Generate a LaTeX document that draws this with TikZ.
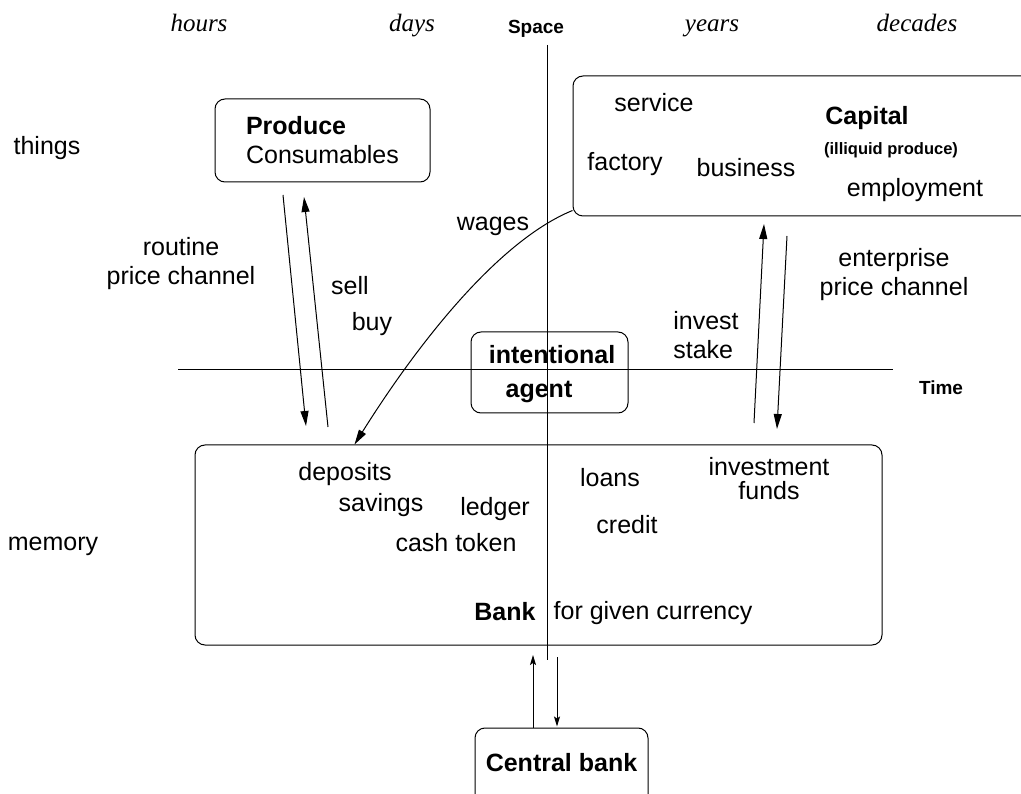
\documentclass[tikz,border=0pt]{standalone}
\usepackage{fontspec}
\setmainfont{Liberation Serif}
\setsansfont{Liberation Sans}
\usetikzlibrary{arrows.meta}
\begin{document}
\begin{tikzpicture}[x=1pt,y=-1pt,
  lbl/.style={font=\sffamily\fontsize{25}{29}\selectfont, inner sep=0pt},
  blbl/.style={font=\sffamily\bfseries\fontsize{25}{29}\selectfont, inner sep=0pt},
  scalelbl/.style={font=\rmfamily\itshape\fontsize{25}{29}\selectfont, inner sep=0pt, anchor=base},
  axislbl/.style={font=\sffamily\bfseries\fontsize{19}{22}\selectfont, inner sep=0pt},
  rbox/.style={draw, rounded corners=10pt, line width=1pt, inner sep=0pt},
  flow/.style={line width=1pt, -{Triangle[length=15pt,width=8pt]}},
  thinflow/.style={line width=1pt, -{Stealth[length=10pt,width=6pt,inset=2pt]}},
  axisline/.style={line width=1pt}]

\path[use as bounding box] (0,0) rectangle (1021,794);
\clip (0,0) rectangle (1021,794);

% time scale labels
\node[scalelbl] (hours) at (199,32) {hours};
\node[scalelbl] (days) at (412,32) {days};
\node[scalelbl] (years) at (712,32) {years};
\node[scalelbl] (decades) at (917,32) {decades};
\node[axislbl, anchor=base] (space) at (536,34) {Space};
\node[axislbl] (time) at (941,388) {Time};

% row labels
\node[lbl] (things) at (47,148) {things};
\node[lbl] (memory) at (53,546) {memory};

% axes
\coordinate (spacetop) at (547,45);
\coordinate (spacebot) at (547,660);
\coordinate (timeleft) at (178,370);
\coordinate (timeright) at (893,370);
\draw[axisline] (spacetop) -- (spacebot);
\draw[axisline] (timeleft) -- (timeright);

% Produce box
\node[rbox, minimum width=215pt, minimum height=83pt, align=left,
      font=\sffamily\fontsize{25}{29}\selectfont] (produce) at (322.5,140.5)
      {\textbf{Produce}\\Consumables};

% Capital box
\node[rbox, minimum width=460pt, minimum height=140pt] (capital) at (803,146) {};
\node[lbl] (service) at (654,103) {service};
\node[blbl] (capitallbl) at (867,118) {Capital};
\node[font=\sffamily\bfseries\fontsize{16.5}{19}\selectfont, inner sep=0pt] (illiquid) at (891,150) {(illiquid produce)};
\node[lbl] (factory) at (625,164) {factory};
\node[lbl] (business) at (746,168) {business};
\node[lbl] (employment) at (915,190) {employment};

% intentional agent
\node[rbox, minimum width=157pt, minimum height=81pt] (agentbox) at (549.5,372.5) {};
\node[blbl] (intentional) at (552,355) {intentional};
\node[blbl] (agent) at (539,392) {agent};

% Bank box
\node[rbox, minimum width=687pt, minimum height=200pt] (bank) at (538.5,545) {};
\node[lbl] (deposits) at (345,474) {deposits};
\node[lbl] (savings) at (381,505) {savings};
\node[lbl] (ledger) at (495,509) {ledger};
\node[lbl] (cashtoken) at (456,543) {cash token};
\node[lbl] (loans) at (610,478) {loans};
\node[lbl] (credit) at (627,525) {credit};
\node[lbl, align=center, font=\sffamily\fontsize{25}{24}\selectfont] (investment) at (769,479) {investment\\funds};
\node[blbl] (banklbl) at (505,612) {Bank};
\node[lbl] (currency) at (653,613) {for given currency};

% Central bank
\node[rbox, minimum width=173pt, minimum height=90pt, text depth=22pt,
      font=\sffamily\bfseries\fontsize{25}{29}\selectfont] (central) at (561.5,773) {Central bank};

% channel labels
\node[lbl, align=center] (routine) at (181,264) {routine\\price channel};
\node[lbl] (sell) at (350,286) {sell};
\node[lbl] (buy) at (372,324) {buy};
\node[lbl] (wages) at (493,226) {wages};
\node[lbl, align=left] (invest) at (706,335) {invest\\stake};
\node[lbl, align=center] (enterprise) at (894,275) {enterprise\\price channel};

% produce arrows
\coordinate (pdtop) at (283,195);
\coordinate (pdbot) at (306,426);
\coordinate (putop) at (304,197);
\coordinate (pubot) at (328,427);
\draw[flow] (pdtop) -- (pdbot);
\draw[flow] (pubot) -- (putop);

% capital arrows
\coordinate (cutop) at (764,224);
\coordinate (cubot) at (754,423);
\coordinate (cdtop) at (787,236);
\coordinate (cdbot) at (777,429);
\draw[flow] (cubot) -- (cutop);
\draw[flow] (cdtop) -- (cdbot);

% wages curve
\draw[flow] ([yshift=6pt]capital.south west) .. controls (500,240) and (420,340) .. ([xshift=160pt]bank.north west);

% central bank arrows
\coordinate (cbup) at (533,655);
\coordinate (cbdown) at (557,657);
\draw[thinflow] (central.north -| cbup) -- (cbup);
\draw[thinflow] (cbdown) -- ([yshift=1pt]central.north -| cbdown);
\end{tikzpicture}
\end{document}
